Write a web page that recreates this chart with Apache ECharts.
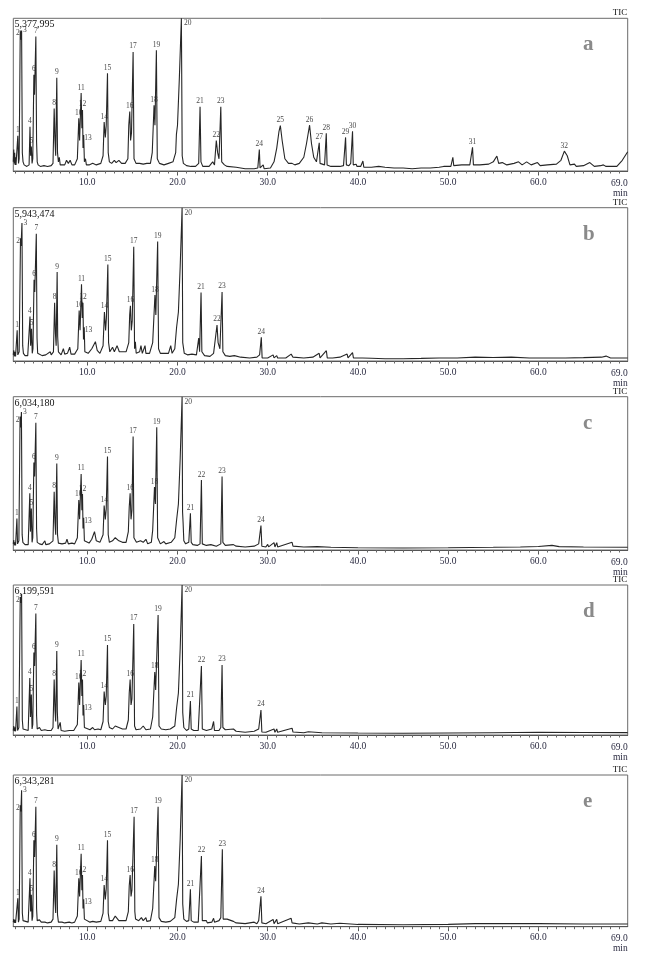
<!DOCTYPE html>
<html><head><meta charset="utf-8">
<script src="https://cdn.jsdelivr.net/npm/echarts@6/dist/echarts.min.js"></script>
<style>html,body{margin:0;padding:0;background:#fff}#c{width:645px;height:959px}</style>
</head><body><div id="c"></div>
<script>
// ---- data ----
const timeMin = 1.8, timeMax = 69.9;
const tickValues = [10, 20, 30, 40, 50, 60];
const endLabel = '69.0';
const axisUnit = 'min';
const traceName = 'TIC';
const intensityLabels = ['5,377,995', '5,943,474', '6,034,180', '6,199,591', '6,343,281'];
const panelLetters = ['a', 'b', 'c', 'd', 'e'];

// [time (min), relative intensity (% of full scale)]
const traceA = [[1.8,6],[1.85,14],[1.9,5],[1.95,12],[2.0,4],[2.05,9],[2.1,4],[2.2,5],[2.3,23],[2.38,5],[2.45,8],[2.57,92],[2.64,86],[2.72,92],[2.8,12],[2.88,6],[3.0,4],[3.3,3],[3.55,4],[3.65,29],[3.72,10],[3.8,16],[3.88,5],[3.96,8],[4.08,63],[4.15,50],[4.3,88],[4.38,19],[4.45,6],[4.55,4],[4.8,3],[5.2,3.5],[5.6,3],[6.0,3.5],[6.2,5],[6.33,41],[6.42,20],[6.5,10],[6.62,61],[6.7,12],[6.8,6],[6.9,9],[7.0,4],[7.2,5],[7.5,4],[7.7,7],[7.9,5],[8.1,7],[8.3,4],[8.6,4],[8.9,8],[9.06,34.5],[9.15,20],[9.32,51],[9.4,28],[9.47,40],[9.53,15],[9.6,23.6],[9.68,6],[9.8,8],[9.9,4],[10.2,4],[10.6,5],[11.0,4],[11.5,5],[11.75,10],[11.87,32],[12.0,22],[12.1,30],[12.24,64],[12.32,12],[12.45,6],[12.7,5],[13.0,7],[13.2,5.5],[13.5,7],[13.8,5],[14.2,5],[14.5,8],[14.6,30],[14.71,39],[14.8,20],[14.9,25],[15.08,78],[15.18,8],[15.4,5],[15.8,5],[16.2,4.5],[16.6,5],[17.0,5],[17.2,12],[17.4,43],[17.5,30],[17.66,79],[17.76,8],[18.0,5],[18.5,4],[19.0,5],[19.5,6],[19.8,12],[19.88,24],[20.0,30],[20.2,60],[20.43,100],[20.52,10],[20.65,5],[21.0,3.5],[21.5,3],[22.0,3],[22.35,5],[22.5,42],[22.6,6],[22.8,3],[23.5,3],[23.9,6],[24.1,4],[24.3,20],[24.45,12],[24.6,8],[24.8,42],[24.9,6],[25.2,4],[25.5,3],[26.5,2.5],[27.5,1.5],[28.5,1.5],[28.9,2],[29.07,14],[29.15,2],[29.5,4],[29.6,1.5],[30.3,2],[30.7,6],[31.0,15],[31.25,26],[31.4,29.7],[31.6,20],[31.9,8],[32.3,5],[32.7,5],[33.0,4],[33.5,5],[34.0,9],[34.3,18],[34.64,30],[34.85,18],[35.1,9],[35.4,6],[35.6,7],[35.71,18.5],[35.8,5],[36.0,4],[36.3,4],[36.49,24.7],[36.58,4],[37.0,3],[37.5,3],[38.0,3],[38.4,3.5],[38.63,22],[38.72,4],[39.0,3.5],[39.2,5],[39.4,26],[39.48,4],[39.8,4.4],[39.9,3],[40.3,3],[40.55,6.5],[40.65,2.5],[41.5,2.5],[42.3,3],[42.5,3.5],[43,2.5],[44,2],[45,2],[46,1.5],[47,2],[48,2],[49,2.5],[49.5,3],[50.3,3],[50.52,9],[50.62,3.5],[51.5,4],[52.4,4],[52.7,15.5],[52.8,4],[53.5,4],[54.5,4.5],[55.0,6],[55.2,5],[55.4,9.8],[55.6,5],[56.0,5.5],[56.5,4],[57.3,5],[57.8,6],[58.2,4],[58.7,6],[59.2,4],[59.9,5.5],[60.2,3.5],[61,4],[62.0,4.5],[62.5,7],[62.88,13],[63.2,10],[63.5,4],[64.0,4.5],[64.2,3],[65,3.5],[65.7,5.5],[66.2,3],[66.9,3.5],[67.2,4],[67.5,3],[68.7,3],[69.3,7],[69.9,12.6]];
const traceB = [[1.8,4],[1.85,7],[1.9,3],[1.95,6],[2.05,3],[2.15,4],[2.23,20],[2.3,4],[2.45,6],[2.6,80],[2.66,75],[2.76,90],[2.84,10],[2.92,5],[3.1,3.5],[3.4,3.5],[3.55,4],[3.65,29],[3.72,10],[3.82,21],[3.9,5],[3.98,8],[4.1,53],[4.18,45],[4.35,83],[4.43,15],[4.5,5],[4.7,4],[5.0,3.5],[5.4,4],[5.6,3.5],[5.9,6],[6.0,4],[6.25,6],[6.38,38],[6.47,18],[6.55,10],[6.66,58],[6.72,16],[6.8,6],[7.0,7],[7.1,4],[7.35,8],[7.5,4.5],[7.8,5],[8.05,9],[8.2,4.5],[8.6,4.5],[8.95,8],[9.1,33],[9.2,20],[9.36,50],[9.44,28],[9.52,38],[9.58,14],[9.66,22],[9.73,6],[9.9,7],[10.1,5],[10.5,8],[10.9,12.6],[11.1,7],[11.4,5],[11.75,10],[11.9,32],[12.03,20],[12.12,28],[12.28,63],[12.36,12],[12.5,6],[12.8,9],[13.0,6],[13.3,10],[13.55,6],[13.9,6],[14.3,6],[14.6,12],[14.7,30],[14.78,36],[14.88,20],[14.98,26],[15.15,74.6],[15.24,8],[15.33,12.6],[15.42,5],[15.8,6],[15.95,10],[16.1,5],[16.4,10],[16.5,5],[16.9,5],[17.25,12],[17.5,43],[17.6,30],[17.8,78],[17.9,8],[18.1,5],[18.6,5],[19.0,5],[19.25,10],[19.4,5],[19.7,8],[19.9,22],[20.1,32],[20.3,62],[20.51,100],[20.58,12],[20.65,11.5],[20.75,5],[21.1,4],[21.6,4.5],[22.1,4],[22.35,15],[22.45,6],[22.61,44.6],[22.7,6],[23.0,3.5],[23.6,3],[24.0,5],[24.2,6],[24.38,23.5],[24.5,12],[24.7,8],[24.94,45],[25.03,6],[25.3,3.5],[25.8,3],[26.3,3.5],[27,2.5],[28,2],[28.8,2.5],[29.1,4],[29.29,15.4],[29.38,2],[30,2],[30.6,4],[30.7,2],[31.0,3.5],[31.1,2],[32.0,2],[32.6,4.5],[32.8,2.5],[34,2],[35,2.5],[35.7,5],[35.8,2],[36.5,6.7],[36.6,2],[37.2,2],[38.0,2.5],[38.8,4.5],[38.9,2],[39.4,5.5],[39.5,2],[40.5,2],[41.5,1.8],[43,1.5],[45,1.5],[47,1.7],[49,2],[51,2],[53,2.5],[55,2.3],[57,2.5],[59,2],[61,2],[63,2],[65,2.2],[67,2.5],[67.5,3.2],[68,2],[69.9,2]];
const traceC = [[1.8,4],[1.85,6.5],[1.9,3],[1.95,5],[2.05,3],[2.12,4],[2.2,20.6],[2.27,4],[2.42,6],[2.55,87],[2.63,80],[2.7,90],[2.78,10],[2.86,5],[3.1,3.5],[3.45,3.5],[3.55,4],[3.63,37],[3.7,12],[3.8,27],[3.88,5],[3.96,8],[4.08,57],[4.16,48],[4.3,83],[4.38,14],[4.45,5],[4.7,4],[5.0,3.5],[5.3,6],[5.4,3.5],[5.8,4],[6.2,6],[6.33,38],[6.42,18],[6.5,10],[6.62,56.5],[6.7,10],[6.8,4.5],[7.2,4],[7.6,4.5],[7.75,7],[7.9,4],[8.3,4.5],[8.6,4],[8.9,8],[9.06,32.6],[9.15,20],[9.32,49.6],[9.4,26],[9.47,36.5],[9.53,14],[9.6,21],[9.68,6],[9.9,6],[10.2,4.5],[10.5,7],[10.8,12],[11.0,6],[11.4,5],[11.75,10],[11.87,29],[12.0,20],[12.1,27],[12.24,61],[12.32,10],[12.45,5],[12.8,6],[13.1,8],[13.3,9],[13.5,6],[13.9,5],[14.3,5],[14.55,12],[14.65,28],[14.75,37],[14.85,20],[14.95,26],[15.08,74],[15.17,8],[15.3,8],[15.45,5],[15.9,6],[16.2,5],[16.5,7],[16.7,4],[17.1,5],[17.25,13],[17.45,41],[17.55,30],[17.7,80],[17.8,8],[18.1,4],[18.5,5.5],[18.7,4],[19.3,5],[19.7,8],[19.9,19.6],[20.1,30],[20.3,60],[20.51,100],[20.56,25],[20.62,18],[20.7,6],[20.9,4],[21.25,5],[21.43,24],[21.52,5],[21.7,3.5],[22.2,3],[22.5,4],[22.65,45.6],[22.75,4],[23.2,3],[23.7,3.5],[24.3,2.5],[24.8,4],[24.94,48],[25.03,5],[25.3,3],[26.2,3.5],[26.5,2.5],[27.5,2],[28.5,2.5],[29.0,4],[29.25,16],[29.35,2.5],[29.8,2],[30.0,3.7],[30.1,2],[30.7,4.8],[30.8,2],[31.0,4.8],[31.1,2],[32.7,5],[32.8,2.5],[34,2],[35.5,2.2],[37,1.8],[40,1.5],[45,1.3],[50,1.5],[55,1.8],[58,2],[60,2.3],[61.5,3],[62.3,2.2],[65,2],[69.9,1.8]];
const traceD = [[1.8,3],[1.85,6],[1.9,2.5],[1.95,5],[2.05,2.5],[2.12,3],[2.2,19],[2.27,3],[2.42,5],[2.57,92],[2.64,88],[2.72,94],[2.8,10],[2.88,4],[3.1,3],[3.45,3],[3.55,3.5],[3.63,38],[3.7,12],[3.8,27],[3.88,4],[3.96,7],[4.08,55],[4.16,46],[4.3,81],[4.38,13],[4.45,4],[4.7,5],[4.9,3],[5.3,3.5],[5.6,3],[6.0,3],[6.2,5],[6.33,37],[6.42,17],[6.5,9],[6.62,56],[6.68,15.5],[6.76,4],[7.0,8.4],[7.1,3],[7.3,3.5],[7.5,2.5],[8.0,3],[8.5,3],[8.9,7],[9.06,35],[9.15,20],[9.32,50],[9.4,26],[9.47,37],[9.53,13],[9.6,20],[9.68,5],[9.9,5],[10.3,3.5],[10.6,5],[10.8,3.5],[11.2,4],[11.5,3.5],[11.75,9],[11.87,29],[12.0,20],[12.1,26],[12.24,60],[12.32,9],[12.45,5],[12.8,4],[13.1,6],[13.3,7],[13.5,5],[13.9,4],[14.3,4],[14.55,10],[14.65,28],[14.75,37],[14.85,20],[14.95,24],[15.15,74],[15.24,6],[15.4,3.5],[15.9,4],[16.2,6],[16.35,6],[16.5,3.5],[17.0,4],[17.25,12],[17.48,42],[17.58,30],[17.85,80],[17.95,6],[18.2,4],[18.7,3.5],[19.2,4],[19.7,6],[19.9,18],[20.1,28],[20.3,58],[20.51,100],[20.58,15],[20.7,5],[21.0,3],[21.25,4],[21.43,22.7],[21.52,4],[21.8,3],[22.3,3],[22.5,4],[22.65,46],[22.75,4],[23.2,3],[23.8,4],[24.0,9],[24.1,3],[24.6,3],[24.8,5],[24.94,46.7],[25.03,5],[25.3,3.5],[26.2,4],[26.5,2.5],[27.5,1.8],[28.5,2.5],[29.0,4],[29.25,16.7],[29.35,2],[29.8,1.8],[30.7,4],[30.8,1.8],[31.0,4],[31.1,1.8],[32.7,4.5],[32.8,2],[34,1.5],[34.5,2.2],[36,1.5],[40,1.3],[45,1.2],[50,1.3],[55,1.5],[60,1.8],[65,1.7],[69.9,1.6]];
const traceE = [[1.8,3],[1.85,5],[1.9,2.5],[1.95,4.5],[2.05,2.5],[2.15,3],[2.3,18.7],[2.37,3],[2.45,5],[2.57,80],[2.64,76],[2.72,90],[2.8,9],[2.88,4],[3.1,3],[3.45,3],[3.55,3.5],[3.65,32],[3.72,10],[3.8,21],[3.88,4],[3.96,7],[4.08,57],[4.16,46],[4.3,79],[4.38,12],[4.45,4],[4.7,4.5],[4.9,3],[5.3,3],[5.6,2.5],[6.0,3],[6.2,5],[6.33,37],[6.42,17],[6.5,9],[6.62,54],[6.7,8],[6.8,3],[7.2,3],[7.5,2.5],[8.0,3],[8.3,2.5],[8.6,3],[8.9,7],[9.06,32],[9.15,20],[9.32,48],[9.4,24],[9.47,34],[9.53,12],[9.6,18],[9.68,5],[9.8,4],[10.3,3],[10.6,3.5],[11.0,3],[11.5,3.5],[11.75,9],[11.87,27.5],[12.0,18],[12.1,25],[12.24,57],[12.32,9],[12.45,4],[12.8,4],[13.1,7],[13.3,7],[13.5,4],[13.9,4],[14.3,4],[14.55,10],[14.65,27],[14.75,34],[14.85,20],[14.95,24],[15.19,72.5],[15.27,10],[15.35,5],[15.7,4],[16.0,6],[16.2,4],[16.5,6],[16.6,3.5],[17.0,4],[17.25,12],[17.48,40],[17.58,30],[17.85,79],[17.95,6],[18.2,3.5],[18.7,3],[19.2,3.5],[19.7,6],[19.9,18],[20.1,28],[20.3,58],[20.51,100],[20.58,15],[20.7,5],[21.0,3.5],[21.25,4],[21.43,24.6],[21.52,4],[21.8,3],[22.3,3],[22.5,4],[22.65,46.6],[22.75,4],[23.2,4],[23.3,2.5],[23.8,3],[24.0,5.5],[24.1,3],[24.6,4],[24.8,6],[24.97,51],[25.06,5],[25.2,6],[25.5,5],[26.2,3.5],[26.5,2.5],[27.5,2],[28.5,3],[28.8,2],[29.0,4],[29.25,20],[29.35,2.5],[29.8,2],[30.6,4.8],[30.7,2],[31.0,4.8],[31.1,2],[32.6,5.5],[32.7,2.5],[33.5,1.8],[34.5,2.5],[35.5,1.8],[36,2.5],[37,1.8],[38,2.3],[40,1.5],[45,1.3],[50,1.5],[53,2],[55,2],[60,2],[65,1.8],[69.9,1.8]];

// [peak number, apex time, apex intensity]
const peaksA = [['1',2.3,23],['2',2.57,92],['3',2.72,92],['4',3.65,29],['5',3.8,16],['6',4.08,63],['7',4.3,88],['8',6.33,41],['9',6.62,61],['10',9.06,34.5],['11',9.32,51],['12',9.47,40],['13',9.6,23.6],['14',11.87,32],['15',12.24,64],['16',14.71,39],['17',15.08,78],['18',17.4,43],['19',17.66,79],['20',20.43,100],['21',22.5,42],['22',24.3,20],['23',24.8,42],['24',29.07,14],['25',31.4,29.7],['26',34.64,30],['27',35.71,18.5],['28',36.49,24.7],['29',38.63,22],['30',39.4,26],['31',52.7,15.5],['32',62.88,13]];
const peaksB = [['1',2.23,20],['2',2.6,80],['3',2.76,90],['4',3.65,29],['5',3.82,21],['6',4.1,53],['7',4.35,83],['8',6.38,38],['9',6.66,58],['10',9.1,33],['11',9.36,50],['12',9.52,38],['13',9.66,22],['14',11.9,32],['15',12.28,63],['16',14.78,36],['17',15.15,74.6],['18',17.5,43],['19',17.8,78],['20',20.51,100],['21',22.61,44.6],['22',24.38,23.5],['23',24.94,45],['24',29.29,15.4]];
const peaksC = [['1',2.2,20.6],['2',2.55,87],['3',2.7,90],['4',3.63,37],['5',3.8,27],['6',4.08,57],['7',4.3,83],['8',6.33,38],['9',6.62,56.5],['10',9.06,32.6],['11',9.32,49.6],['12',9.47,36.5],['13',9.6,21],['14',11.87,29],['15',12.24,61],['16',14.75,37],['17',15.08,74],['18',17.45,41],['19',17.7,80],['20',20.51,100],['21',21.43,24],['22',22.65,45.6],['23',24.94,48],['24',29.25,16]];
const peaksD = [['1',2.2,19],['2',2.57,92],['4',3.63,38],['5',3.8,27],['6',4.08,55],['7',4.3,81],['8',6.33,37],['9',6.62,56],['10',9.06,35],['11',9.32,50],['12',9.47,37],['13',9.6,20],['14',11.87,29],['15',12.24,60],['16',14.75,37],['17',15.15,74],['18',17.48,42],['19',17.85,80],['20',20.51,100],['21',21.43,22.7],['22',22.65,46],['23',24.94,46.7],['24',29.25,16.7]];
const peaksE = [['1',2.3,18.7],['2',2.57,80],['3',2.72,90],['4',3.65,32],['5',3.8,21],['6',4.08,57],['7',4.3,79],['8',6.33,37],['9',6.62,54],['10',9.06,32],['11',9.32,48],['12',9.47,34],['13',9.6,18],['14',11.87,27.5],['15',12.24,57],['16',14.75,34],['17',15.19,72.5],['18',17.48,40],['19',17.85,79],['20',20.51,100],['21',21.43,24.6],['22',22.65,46.6],['23',24.97,51],['24',29.25,20]];

// ---- layout / style ----
const traces = [traceA, traceB, traceC, traceD, traceE];
const peaks = [peaksA, peaksB, peaksC, peaksD, peaksE];
const gridTops = [18.3, 207.7, 396.7, 585, 775];
const gridHeights = [152.7, 153.3, 153.3, 150, 151.7];
const GL = 13.3, GR = 17.3;
const serif = 'Liberation Serif';
const labelPos = {
  '2': {position: 'left', distance: 0, offset: [0, 3]},
  '3': {position: 'right', distance: 1},
  '13': {position: 'right', distance: 0, offset: [0, 3]},
  '20': {position: 'right', distance: 2, offset: [0, 5]}
};
const minorTicks = [];
for (let m = 2; m <= 69; m++) minorTicks.push(m);

const grid = [], xAxis = [], yAxis = [], series = [], graphic = [];
traces.forEach((tr, i) => {
  grid.push({left: GL, right: GR, top: gridTops[i], height: gridHeights[i], show: true,
    borderColor: '#6a6a6a', borderWidth: 1, backgroundColor: 'rgba(0,0,0,0)'});
  xAxis.push({type: 'value', gridIndex: i, min: timeMin, max: timeMax, position: 'bottom',
    axisLine: {show: true, lineStyle: {color: '#555', width: 1}},
    axisTick: {show: true, customValues: tickValues, length: 4.5, lineStyle: {color: '#555'}},
    axisLabel: {show: true, customValues: tickValues, formatter: v => Number(v).toFixed(1), margin: 6,
      fontSize: 9.5, fontFamily: serif, color: '#2a2a40'},
    splitLine: {show: false},
    name: endLabel + '\n' + axisUnit, nameLocation: 'end', nameGap: 0,
    nameTextStyle: {align: 'right', verticalAlign: 'top', padding: [7, 0, 0, 0], fontSize: 9.5,
      lineHeight: 10, fontFamily: serif, color: '#2a2a40'}
  });
  xAxis.push({type: 'value', gridIndex: i, min: timeMin, max: timeMax, position: 'bottom',
    axisLine: {show: false}, axisLabel: {show: false}, splitLine: {show: false},
    axisTick: {show: true, customValues: minorTicks, length: 2.5, lineStyle: {color: '#666'}}});
  yAxis.push({type: 'value', gridIndex: i, min: 0, max: 100, show: false});
  series.push({type: 'line', xAxisIndex: 2 * i, yAxisIndex: i, data: tr, symbol: 'none',
    lineStyle: {color: '#262626', width: 1.1}, silent: true, animation: false, clip: true});
  series.push({type: 'scatter', xAxisIndex: 2 * i, yAxisIndex: i, symbolSize: 1,
    itemStyle: {color: 'rgba(0,0,0,0)'}, silent: true, animation: false,
    data: peaks[i].map(p => {
      const o = {value: [p[1], p[2]], name: p[0]};
      if (labelPos[p[0]]) o.label = labelPos[p[0]];
      return o;
    }),
    label: {show: true, position: 'top', distance: 1, formatter: q => q.name,
      fontSize: 7.5, fontFamily: serif, color: '#111'}
  });
  graphic.push({type: 'text', left: 14.5, top: gridTops[i] + 1.5,
    style: {text: intensityLabels[i], font: '10px "' + serif + '"', fill: '#111'}});
  graphic.push({type: 'text', right: GR + 0.5, top: gridTops[i] - 10,
    style: {text: traceName, font: '9px "' + serif + '"', fill: '#111'}});
  graphic.push({type: 'text', left: 583, top: gridTops[i] + 16,
    style: {text: panelLetters[i], font: 'bold 21px "' + serif + '"', fill: '#8a8a8a'}});
});

const chart = echarts.init(document.getElementById('c'), null, {renderer: 'canvas'});
chart.setOption({animation: false, grid, xAxis, yAxis, series, graphic});
</script></body></html>
